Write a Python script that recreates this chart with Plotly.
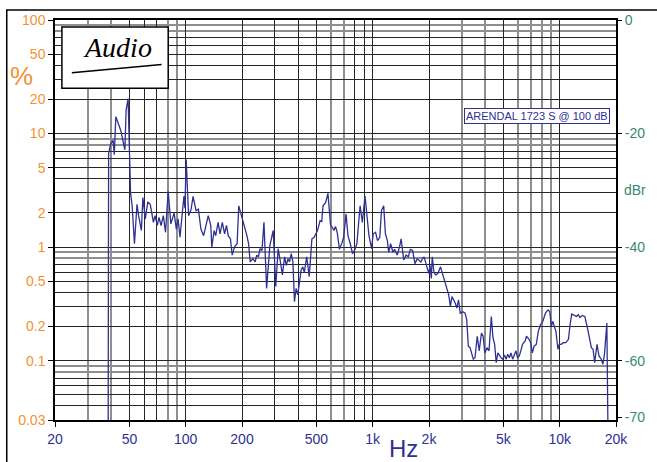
import math
import plotly.graph_objects as go

# ---------------- data ----------------
freq_hz = [38.5, 38.7, 39.8, 40.9, 41.5, 42.3, 44.9, 47.3, 48.0, 49.2,
           50.7, 51.7, 53.2, 54.9, 56.0, 57.9, 59.0, 60.8, 62.7, 64.6,
           67.2, 68.6, 70.5, 72.0, 73.8, 75.9, 78.0, 80.6, 83.3, 86.7,
           89.1, 91.0, 93.2, 96.7, 97.8, 99.0, 100.6, 103.6, 106.9, 109.5,
           113.6, 116.9, 120.6, 124.7, 128.2, 132.0, 136.2, 137.9, 141.9, 144.7,
           149.0, 152.6, 157.0, 161.4, 165.3, 168.8, 173.5, 177.2, 182.2, 188.3,
           192.2, 197.6, 202.4, 208.2, 212.5, 216.9, 221.2, 228.5, 235.0, 239.9,
           244.9, 249.7, 255.8, 262.1, 270.8, 281.8, 293.7, 303.1, 312.1, 320.9,
           328.8, 338.1, 345.1, 352.3, 359.2, 366.7, 374.3, 381.6, 389.5, 397.6,
           413.9, 422.5, 430.8, 443.5, 457.7, 472.9, 486.3, 506.8, 523.0, 533.9,
           542.4, 560.4, 576.2, 595.4, 607.8, 619.7, 632.5, 645.7, 663.9, 686.0,
           699.4, 720.1, 737.7, 758.6, 780.0, 799.1, 822.7, 856.2, 880.4, 909.7,
           928.7, 954.9, 986.7, 1006, 1036, 1061, 1091, 1114, 1145, 1169,
           1198, 1217, 1247, 1282, 1309, 1352, 1390, 1419, 1465, 1508,
           1550, 1589, 1634, 1682, 1730, 1809, 1845, 1883, 1959, 2000,
           2024, 2057, 2082, 2125, 2170, 2231, 2305, 2399, 2449, 2497,
           2549, 2602, 2653, 2765, 2818, 2877, 2937, 3031, 3120, 3181,
           3247, 3315, 3380, 3451, 3523, 3622, 3711, 3816, 3895, 3976,
           4088, 4189, 4307, 4397, 4488, 4576, 4671, 4768, 4862, 4963,
           5066, 5165, 5273, 5383, 5488, 5603, 5719, 5831, 5953, 6077,
           6196, 6325, 6535, 6639, 6860, 6994, 7140, 7289, 7494, 7678,
           7895, 8128, 8388, 8667, 8847, 9020, 9175, 9400, 9550, 9784,
           9939, 10180, 10480, 10780, 11140, 11360, 11590, 11980, 12310, 12570,
           12820, 13200, 13620, 14070, 14470, 14770, 15080, 15380, 15830, 16220,
           16680, 17020, 17360, 17870, 18090]

thd_pct = [0.03, 6.7, 8.2, 8.7, 6.5, 14.1, 10.7, 7.2, 16.1, 20.3,
           3.0, 2.31, 1.07, 2.38, 1.89, 1.40, 2.73, 1.77, 2.5, 2.38,
           1.65, 1.89, 1.55, 1.83, 1.55, 1.89, 1.35, 3.1, 1.6, 2.0,
           1.44, 1.77, 1.22, 2.09, 2.8, 2.2, 5.9, 1.89, 2.16, 2.8,
           2.09, 2.16, 1.44, 1.26, 1.55, 1.89, 1.55, 1.0, 1.40, 1.26,
           1.65, 1.31, 1.65, 1.31, 1.55, 1.26, 1.18, 0.85, 1.0, 1.07,
           2.31, 1.95, 1.77, 1.44, 1.26, 1.07, 0.74, 0.79, 0.74, 0.85,
           0.82, 0.97, 0.93, 1.65, 0.433, 1.03, 1.40, 0.45, 0.97, 0.74,
           0.57, 0.82, 0.69, 0.79, 0.74, 0.875, 0.74, 0.331, 0.433, 0.379,
           0.627, 0.67, 0.6, 0.82, 0.55, 1.18, 1.22, 1.40, 1.71, 1.68,
           2.31, 2.47, 2.97, 1.55, 1.5, 1.40, 1.52, 1.35, 0.955, 1.1,
           1.22, 1.95, 1.26, 1.07, 0.875, 0.935, 1.07, 2.31, 1.65, 2.82,
           2.02, 1.26, 0.97, 1.31, 1.35, 1.14, 1.22, 2.09, 2.31, 1.31,
           1.14, 0.90, 1.07, 0.90, 0.955, 0.85, 1.0, 1.18, 0.77, 0.85,
           0.82, 0.955, 0.935, 0.715, 0.79, 0.74, 0.79, 0.82, 0.65, 0.585,
           0.69, 0.53, 0.82, 0.6, 0.57, 0.585, 0.67, 0.53, 0.463, 0.42,
           0.379, 0.30, 0.366, 0.32, 0.29, 0.343, 0.262, 0.27, 0.262, 0.23,
           0.134, 0.13, 0.114, 0.103, 0.106, 0.164, 0.122, 0.175, 0.164, 0.117,
           0.13, 0.122, 0.245, 0.159, 0.139, 0.096, 0.117, 0.11, 0.106, 0.103,
           0.112, 0.103, 0.114, 0.106, 0.117, 0.103, 0.114, 0.122, 0.106, 0.11,
           0.122, 0.139, 0.149, 0.164, 0.154, 0.144, 0.117, 0.134, 0.139, 0.18,
           0.207, 0.222, 0.262, 0.28, 0.271, 0.20, 0.222, 0.194, 0.18, 0.126,
           0.139, 0.139, 0.144, 0.144, 0.154, 0.207, 0.257, 0.25, 0.245, 0.254,
           0.24, 0.25, 0.245, 0.194, 0.159, 0.13, 0.126, 0.096, 0.139, 0.11,
           0.103, 0.093, 0.114, 0.214, 0.03]

F_MIN, F_MAX = 20, 20000
P_MIN, P_MAX = 0.03, 100
DB_MIN = 20 * math.log10(P_MIN / P_MAX)

x_tick_vals = [20, 50, 100, 200, 500, 1000, 2000, 5000, 10000, 20000]
x_tick_text = ["20", "50", "100", "200", "500", "1k", "2k", "5k", "10k", "20k"]
y_tick_vals = [0.03, 0.1, 0.2, 0.5, 1, 2, 5, 10, 20, 50, 100]
y_tick_text = ["0.03", "0.1", "0.2", "0.5", "1", "2", "5", "10", "20", "50", "100"]
db_tick_vals = [0, -20, -40, -60, -70]
db_tick_text = ["0", "-20", "-40", "-60", "-70"]

x_grid_dark = [50, 60, 70, 100, 200, 300, 400, 500, 800, 900, 1000, 2000, 5000, 10000]
x_grid_grey = [30, 40, 80, 90, 600, 700, 3000, 4000, 6000, 7000, 8000, 9000]
y_grid_dark = [round(m * 10 ** k, 4) for k in range(-2, 2) for m in (1, 2, 3, 4, 5, 6, 7)
               if P_MIN < round(m * 10 ** k, 4) < P_MAX]
y_grid_grey = [round(m * 10 ** k, 4) for k in range(-2, 2) for m in (8, 9)]

NAVY = "#2E3192"
ORANGE = "#F39233"
TEAL = "#368A73"
DARK = "#262626"
GREY = "#8e8e8e"
FONT = "Liberation Sans"

xr = [math.log10(F_MIN), math.log10(F_MAX)]
yr = [math.log10(P_MIN), math.log10(P_MAX)]

fig = go.Figure()
fig.add_trace(go.Scatter(x=freq_hz, y=thd_pct, mode="lines",
                         line=dict(color=NAVY, width=1.3),
                         xaxis="x", yaxis="y", showlegend=False, hoverinfo="x+y"))
# invisible anchors for the overlay axes
fig.add_trace(go.Scatter(x=[F_MIN, F_MAX], y=[P_MIN, P_MAX], mode="markers",
                         marker=dict(opacity=0), xaxis="x2", yaxis="y2",
                         showlegend=False, hoverinfo="skip"))
fig.add_trace(go.Scatter(x=[F_MIN, F_MAX], y=[DB_MIN, 0], mode="markers",
                         marker=dict(opacity=0), xaxis="x", yaxis="y3",
                         showlegend=False, hoverinfo="skip"))

fig.update_layout(
    width=657, height=462,
    margin=dict(l=55, r=32, t=16, b=42),
    paper_bgcolor="white", plot_bgcolor="white",
    font=dict(family=FONT, size=14),
    showlegend=False,
    xaxis=dict(type="log", range=xr, tickmode="array", tickvals=x_tick_vals,
               ticktext=x_tick_text, ticks="outside", ticklen=5, tickwidth=1.2,
               tickcolor="black", showgrid=False, zeroline=False,
               showline=True, linecolor="black", linewidth=1.5, mirror=True,
               tickfont=dict(color=NAVY, size=14, family=FONT)),
    yaxis=dict(type="log", range=yr, tickmode="array", tickvals=y_tick_vals,
               ticktext=y_tick_text, ticks="outside", ticklen=5, tickwidth=1.2,
               tickcolor="black", showgrid=False, zeroline=False,
               showline=True, linecolor="black", linewidth=1.5, mirror=True,
               tickfont=dict(color=ORANGE, size=14, family=FONT)),
    xaxis2=dict(type="log", range=xr, overlaying="x", anchor="y2",
                tickmode="array", tickvals=x_grid_dark, showticklabels=False,
                ticks="", showgrid=True, gridcolor=DARK, gridwidth=1,
                zeroline=False, showline=False,
                minor=dict(tickmode="array", tickvals=x_grid_grey, showgrid=True,
                           gridcolor=GREY, gridwidth=1.5, ticks="")),
    yaxis2=dict(type="log", range=yr, overlaying="y", anchor="x2",
                tickmode="array", tickvals=y_grid_dark, showticklabels=False,
                ticks="", showgrid=True, gridcolor=DARK, gridwidth=1,
                zeroline=False, showline=False,
                minor=dict(tickmode="array", tickvals=y_grid_grey, showgrid=True,
                           gridcolor=GREY, gridwidth=1.5, ticks="")),
    yaxis3=dict(range=[DB_MIN, 0], overlaying="y", side="right", anchor="x",
                tickmode="array", tickvals=db_tick_vals, ticktext=db_tick_text,
                ticks="outside", ticklen=5, tickwidth=1.2, tickcolor="black",
                showgrid=False, zeroline=False, showline=False,
                tickfont=dict(color=TEAL, size=14, family=FONT)),
)

# outer frame of the figure
fig.add_shape(type="rect", xref="paper", yref="paper", x0=-0.086, x1=1.2,
              y0=-0.3, y1=1.0248, line=dict(color="black", width=1.5),
              fillcolor="rgba(0,0,0,0)", layer="above")
# logo box
fig.add_shape(type="rect", xref="paper", yref="paper", x0=0.0123, x1=0.2018,
              y0=0.8292, y1=0.9827, line=dict(color="black", width=1.5),
              fillcolor="white", layer="above")
fig.add_shape(type="line", xref="paper", yref="paper", x0=0.03, x1=0.19,
              y0=0.868, y1=0.889, line=dict(color="black", width=1.5), layer="above")

annotations = [
    dict(text="Audio", x=0.112, y=0.93, xref="paper", yref="paper",
         xanchor="center", yanchor="middle", showarrow=False,
         font=dict(family="Liberation Serif", size=28, color="black", style="italic")),
    dict(text="ARENDAL 1723 S @ 100 dB", x=0.8585, y=0.7604, xref="paper", yref="paper",
         xanchor="center", yanchor="middle", showarrow=False,
         font=dict(family=FONT, size=11, color=NAVY),
         bordercolor=NAVY, borderwidth=1, borderpad=1, bgcolor="white"),
    dict(text="Hz", x=0.621, y=-0.072, xref="paper", yref="paper", showarrow=False,
         xanchor="center", yanchor="middle", font=dict(family=FONT, size=24, color=NAVY)),
    dict(text="%", x=-0.0596, y=0.861, xref="paper", yref="paper", showarrow=False,
         xanchor="center", yanchor="middle", font=dict(family=FONT, size=26, color=ORANGE)),
    dict(text="dBr", x=1.0333, y=0.5742, xref="paper", yref="paper", showarrow=False,
         xanchor="center", yanchor="middle", font=dict(family=FONT, size=14, color=TEAL)),
]
fig.update_layout(annotations=annotations)

fig.write_html("out.html",
               config={"displayModeBar": False},
               post_script="document.body.style.margin='0';"
                           "document.body.style.overflow='hidden';")
